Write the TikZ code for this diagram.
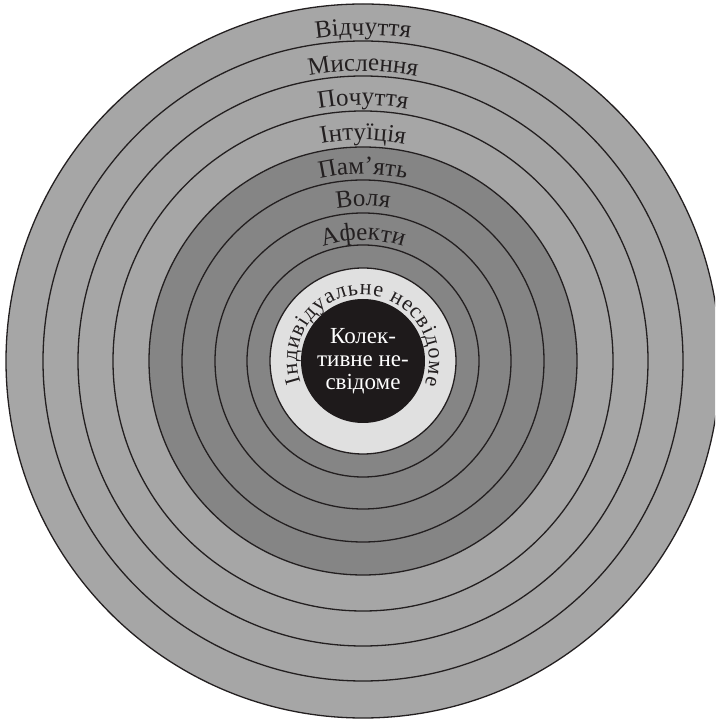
\documentclass[tikz,border=0pt]{standalone}
\usepackage{fontspec}
\setmainfont{Liberation Serif}
\usetikzlibrary{decorations.text}
\definecolor{outerg}{HTML}{A6A6A6}
\definecolor{innerg}{HTML}{858585}
\definecolor{ringw}{HTML}{E0E0E0}
\definecolor{coreb}{HTML}{1E1A1B}
\definecolor{ink}{HTML}{231F20}
\newcommand\labfont{\fontsize{25}{25}\selectfont}
\newcommand\innerfont{\fontsize{22}{22}\selectfont}
\newcommand\corefont{\fontsize{23}{23}\selectfont}
\begin{document}
\begin{tikzpicture}[x=1pt,y=1pt,
  ring/.style={draw=ink, line width=1.3pt},
  arclabel/.style={decorate, decoration={text along path, text align=center, text={|\labfont\color{ink}|#1}}}]
\useasboundingbox (0,0) rectangle (715,720);
\fill[white] (0,0) rectangle (715,720);
\clip (0,0) rectangle (715,720);
\coordinate (c) at (363,359);
\foreach \r/\col in {357/outerg,320/outerg,285/outerg,250/outerg,214/innerg,181/innerg,148/innerg,116/innerg,93/ringw}
  \filldraw[ring, fill=\col] (c) circle[radius=\r];
\fill[coreb] (c) circle[radius=62];
\foreach \r/\t in {326/Відчуття,290/Мислення,256/Почуття,221/Інтуїція,187/Пам’ять,155/Воля,121/Афекти}
  \path[arclabel=\t] (c) ++(125:\r) arc[start angle=125, end angle=55, radius=\r];
\path[decorate, decoration={text along path, text align=fit to path, text={|\innerfont\color{ink}|Індивідуальне несвідоме}}] (c) ++(199:66) arc[start angle=199, end angle=-21, radius=66];
\node[text=white, align=center, font=\corefont, inner sep=0pt] (core) at (c) {Колек-\\тивне не-\\свідоме};
\end{tikzpicture}
\end{document}
